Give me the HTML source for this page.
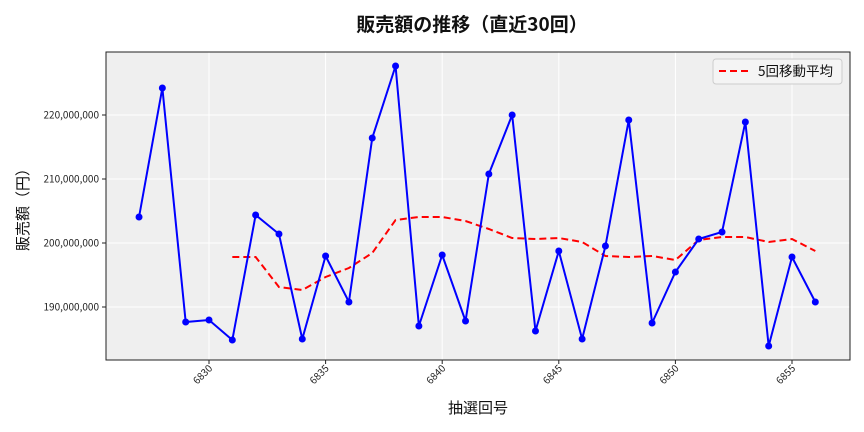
<!DOCTYPE html>
<html><head><meta charset="utf-8"><style>
html,body{margin:0;padding:0;background:#fff;}
svg{display:block;font-family:"Noto Sans CJK JP","Liberation Sans",sans-serif;}
</style></head><body>
<svg id="s" width="864" height="432" viewBox="0 0 864 432" xmlns="http://www.w3.org/2000/svg">
<rect x="106" y="52" width="744" height="308" fill="#efefef"/>
<g id="grid" stroke="#fff" stroke-width="1"></g>
<rect x="106" y="52" width="744" height="308" fill="none" stroke="#222" stroke-width="1"/>
<g id="ticks" font-size="10" fill="#222"></g>
<polyline id="ma" fill="none" stroke="#f00" stroke-width="2" stroke-dasharray="7,4"/>
<polyline id="ln" fill="none" stroke="#00f" stroke-width="2"/>
<g id="dots" fill="#00f"></g>
<text x="472" y="31" text-anchor="middle" font-size="19" font-weight="bold" fill="#111">販売額の推移（直近30回）</text>
<text x="478" y="413" text-anchor="middle" font-size="15" fill="#111">抽選回号</text>
<text transform="translate(28,206) rotate(-90)" text-anchor="middle" font-size="15" fill="#111">販売額（円）</text>
<rect x="713" y="59" width="129" height="25" rx="3" fill="#f4f4f4" stroke="#ccc"/>
<line x1="719" y1="71" x2="748" y2="71" stroke="#f00" stroke-width="2" stroke-dasharray="7,4"/>
<text x="758" y="76" font-size="13.5" fill="#111">5回移動平均</text>
</svg>
<script>
var ns="http://www.w3.org/2000/svg";
function X(n){return 209+(n-6830)*23.32;}
function Y(v){return 115+(220-v)*6.4;}
var g=document.getElementById('grid'),t=document.getElementById('ticks');
function el(p,tag,a,txt){var e=document.createElementNS(ns,tag);for(var k in a)e.setAttribute(k,a[k]);if(txt)e.textContent=txt;p.appendChild(e);return e;}
[190,200,210,220].forEach(function(v){var y=Y(v);el(g,'line',{x1:106,x2:850,y1:y,y2:y});
el(t,'line',{x1:102,x2:106,y1:y,y2:y,stroke:'#222'});
el(t,'text',{x:99,y:y+3.5,'text-anchor':'end'},v+',000,000');});
[6830,6835,6840,6845,6850,6855].forEach(function(n){var x=X(n);el(g,'line',{x1:x,x2:x,y1:52,y2:360});
el(t,'line',{x1:x,x2:x,y1:360,y2:364,stroke:'#222'});
el(t,'text',{x:0,y:0,'text-anchor':'end',transform:'translate('+(x+4)+',369) rotate(-45)'},String(n));});
var py=[217,88,322,320,340,215,234,339,256,302,138,66,326,255,321,174,115,331,251,339,246,120,323,272,239,232,122,346,257,302];
var pts=[],d=document.getElementById('dots');
py.forEach(function(y,i){var x=X(6827+i);pts.push(x+','+y);el(d,'circle',{cx:x,cy:y,r:3.5});});
document.getElementById('ln').setAttribute('points',pts.join(' '));
var ma=[257,257,287,290,277,268,253,220,217,217,221,229,238,239,238,242,256,257,256,260,240,237,237,242,239,251];
document.getElementById('ma').setAttribute('points',ma.map(function(y,i){return X(6831+i)+','+y;}).join(' '));
</script>
</body></html>
